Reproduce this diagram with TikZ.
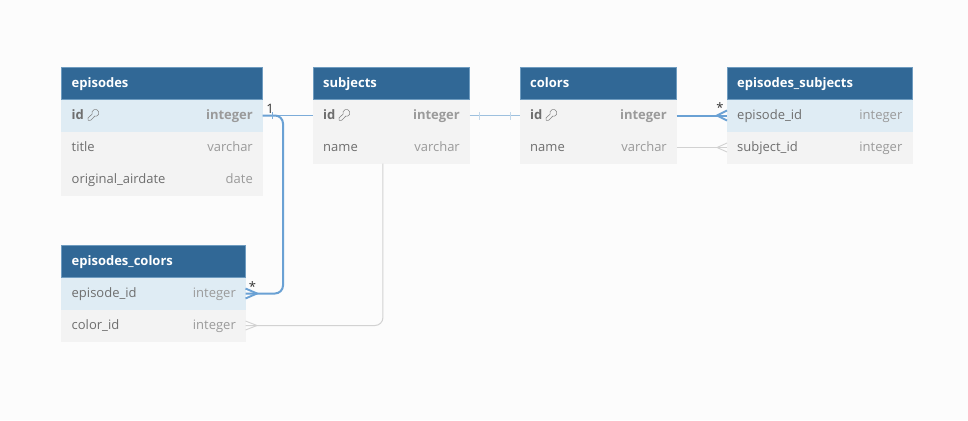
\documentclass[tikz,border=0pt]{standalone}
\usepackage{fontspec}
\setmainfont{Open Sans}
\definecolor{pagebg}{HTML}{FCFCFC}
\definecolor{headblue}{HTML}{316896}
\definecolor{headedge}{HTML}{6F9CC0}
\definecolor{rowlight}{HTML}{F3F3F3}
\definecolor{rowhi}{HTML}{DFECF4}
\definecolor{nametext}{HTML}{6E6E6E}
\definecolor{typetext}{HTML}{9A9A9A}
\definecolor{linkblue}{HTML}{6AA1D4}
\definecolor{linkpale}{HTML}{9DC0DE}
\definecolor{linkgrey}{HTML}{D2D2D2}
\tikzset{
  x=1pt,y=-1pt,
  headbox/.style={fill=headblue,draw=headedge,line width=.6pt,inner sep=0pt,outer sep=0pt,anchor=north west,minimum height=32pt},
  rowbox/.style={inner sep=0pt,outer sep=0pt,anchor=north west,minimum height=32pt,fill=#1},
  tabletext/.style={text height=10pt,text depth=3pt,inner sep=0pt},
  headtext/.style={tabletext,text=white,font=\fontsize{13}{15}\selectfont\bfseries,anchor=west},
  nametxt/.style={tabletext,text=nametext,font=\fontsize{13}{15}\selectfont,anchor=west},
  nametxtb/.style={tabletext,text=nametext,font=\fontsize{13}{15}\selectfont\bfseries,anchor=west},
  typetxt/.style={tabletext,text=typetext,font=\fontsize{13}{15}\selectfont,anchor=east},
  typetxtb/.style={tabletext,text=typetext,font=\fontsize{13}{15}\selectfont\bfseries,anchor=east},
  cardtxt/.style={text=black!80,font=\fontsize{13}{15}\selectfont,inner sep=0pt},
  keyline/.style={draw=nametext!85,line width=.55pt,line join=round},
  linkhi/.style={draw=linkblue,line width=2pt,rounded corners=8pt},
  linkmid/.style={draw=linkblue!88,line width=1.6pt},
  linkthin/.style={draw=linkpale,line width=1.2pt},
  linkoff/.style={draw=linkgrey,line width=1pt,rounded corners=8pt},
  tickoff/.style={draw=linkpale!60,line width=.8pt},
  crowhi/.style={draw=linkblue,line width=1.9pt},
  crowoff/.style={draw=linkgrey,line width=.9pt},
}
% #1 centre of the icon: an outlined key, bow at the upper right
\newcommand{\keyicon}[1]{%
  \begin{scope}[shift={#1}]
    \draw[keyline] (-0.9,-0.9) arc[start angle=200,end angle=-110,radius=3.5pt]
      -- (1.6,1.4) -- (-2.2,5.2) -- (-4.8,5.4) -- (-5,3) -- cycle;
  \end{scope}}
\begin{document}
\begin{tikzpicture}
\useasboundingbox (0,0) rectangle (968,420);
\fill[pagebg] (0,0) rectangle (968,420);

% episodes
\node[headbox,minimum width=201.5pt] (epHead) at (61,67.5) {};
\node[headtext] (epHeadT) at (71.5,84.1) {episodes};
\node[rowbox=rowhi,minimum width=201.5pt] (epId) at (61,99.5) {};
\node[nametxtb] (epIdN) at (71.5,116.1) {id};
\node[typetxtb] (epIdT) at (253,116.1) {integer};
\node[rowbox=rowlight,minimum width=201.5pt] (epTitle) at (61,131.5) {};
\node[nametxt] (epTitleN) at (71.5,148.1) {title};
\node[typetxt] (epTitleT) at (253,148.1) {varchar};
\node[rowbox=rowlight,minimum width=201.5pt] (epAir) at (61,163.5) {};
\node[nametxt] (epAirN) at (71.5,180.1) {original\_airdate};
\node[typetxt] (epAirT) at (253,180.1) {date};
\keyicon{(93,115)}

% subjects
\node[headbox,minimum width=156.5pt] (suHead) at (313,67.5) {};
\node[headtext] (suHeadT) at (323,84.1) {subjects};
\node[rowbox=rowlight,minimum width=156.5pt] (suId) at (313,99.5) {};
\node[nametxtb] (suIdN) at (323,116.1) {id};
\node[typetxtb] (suIdT) at (460,116.1) {integer};
\node[rowbox=rowlight,minimum width=156.5pt] (suName) at (313,131.5) {};
\node[nametxt] (suNameN) at (323,148.1) {name};
\node[typetxt] (suNameT) at (460,148.1) {varchar};
\keyicon{(344,115)}

% colors
\node[headbox,minimum width=156.5pt] (coHead) at (520,67.5) {};
\node[headtext] (coHeadT) at (530,84.1) {colors};
\node[rowbox=rowlight,minimum width=156.5pt] (coId) at (520,99.5) {};
\node[nametxtb] (coIdN) at (530,116.1) {id};
\node[typetxtb] (coIdT) at (667,116.1) {integer};
\node[rowbox=rowlight,minimum width=156.5pt] (coName) at (520,131.5) {};
\node[nametxt] (coNameN) at (530,148.1) {name};
\node[typetxt] (coNameT) at (667,148.1) {varchar};
\keyicon{(551,115)}

% episodes_subjects
\node[headbox,minimum width=185.5pt] (esHead) at (727,67.5) {};
\node[headtext] (esHeadT) at (737,84.1) {episodes\_subjects};
\node[rowbox=rowhi,minimum width=185.5pt] (esEp) at (727,99.5) {};
\node[nametxt] (esEpN) at (737,116.1) {episode\_id};
\node[typetxt] (esEpT) at (902.5,116.1) {integer};
\node[rowbox=rowlight,minimum width=185.5pt] (esSu) at (727,131.5) {};
\node[nametxt] (esSuN) at (737,148.1) {subject\_id};
\node[typetxt] (esSuT) at (902.5,148.1) {integer};

% episodes_colors
\node[headbox,minimum width=184.5pt] (ecHead) at (61,245.5) {};
\node[headtext] (ecHeadT) at (71.5,262.1) {episodes\_colors};
\node[rowbox=rowhi,minimum width=184.5pt] (ecEp) at (61,277.5) {};
\node[nametxt] (ecEpN) at (71.5,294.1) {episode\_id};
\node[typetxt] (ecEpT) at (236,294.1) {integer};
\node[rowbox=rowlight,minimum width=184.5pt] (ecCo) at (61,309.5) {};
\node[nametxt] (ecCoN) at (71.5,326.1) {color\_id};
\node[typetxt] (ecCoT) at (236,326.1) {integer};

% connectors
\coordinate (subjDown) at ([xshift=-8.3pt]suName.south);
\coordinate (jogA) at (283,115.5);
\coordinate (jogB) at (283,293.5);
\coordinate (footEc) at (257,293.5);
\coordinate (footEcB) at (257,325.5);
\coordinate (footEs) at (717,115.5);
\coordinate (footEsB) at (717,147.5);

\draw[linkoff] (subjDown) |- (ecCo.east);
\draw[crowoff] ([yshift=-4.5pt]ecCo.east) -- (footEcB) -- ([yshift=4.5pt]ecCo.east);
\draw[linkoff] (coName.east) -- (esSu.west);
\draw[crowoff] ([yshift=-4.5pt]esSu.west) -- (footEsB) -- ([yshift=4.5pt]esSu.west);

\draw[linkthin] (suId.east) -- (coId.west);
\draw[tickoff] ([xshift=10pt,yshift=-4pt]suId.east) -- ([xshift=10pt,yshift=4pt]suId.east);
\draw[tickoff] ([xshift=-10pt,yshift=-4pt]coId.west) -- ([xshift=-10pt,yshift=4pt]coId.west);

\draw[linkmid] (epId.east) -- (suId.west);
\draw[linkhi] (epId.east) -- (jogA) -- (jogB) -- (ecEp.east);
\draw[linkmid] ([xshift=10pt,yshift=-3.5pt]epId.east) -- ([xshift=10pt,yshift=3.5pt]epId.east);
\draw[crowhi] ([yshift=-5pt]ecEp.east) -- (footEc) -- ([yshift=5pt]ecEp.east);
\draw[linkhi] (coId.east) -- (esEp.west);
\draw[crowhi] ([yshift=-5pt]esEp.west) -- (footEs) -- ([yshift=5pt]esEp.west);

\node[cardtxt] (cardOne) at (270,108.5) {1};
\node[cardtxt] (cardEc) at (252.5,286.5) {*};
\node[cardtxt] (cardEs) at (720,107.5) {*};
\end{tikzpicture}
\end{document}
